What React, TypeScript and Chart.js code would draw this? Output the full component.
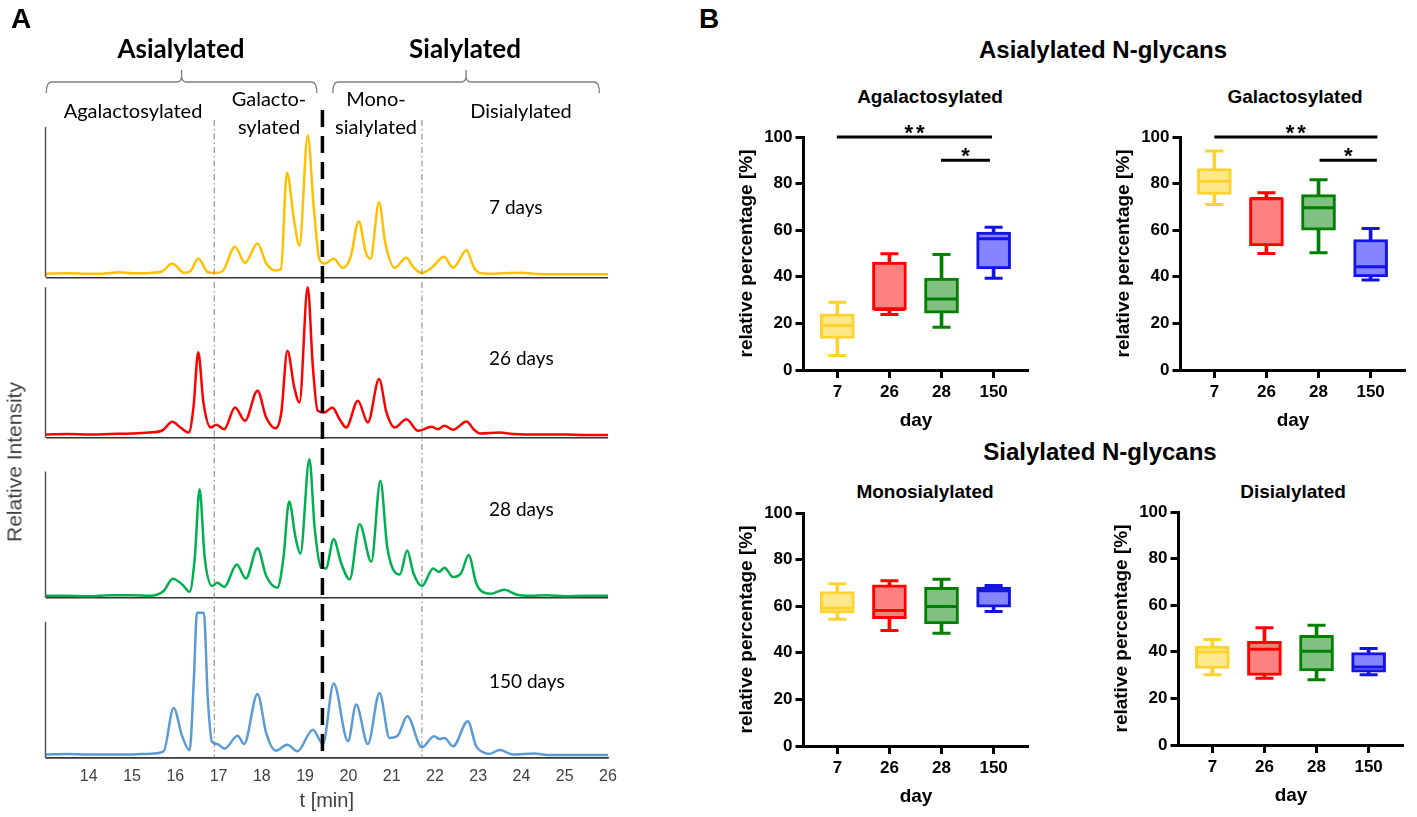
import React, { useEffect, useRef } from "react";
import { Chart, registerables } from "chart.js";

Chart.register(...registerables);

const ARIAL = "'Liberation Sans', Arial, Helvetica, sans-serif";
const CALIBRI = "Lato, 'Open Sans', 'DejaVu Sans', sans-serif";

// ---------------- Panel A : chromatograms ----------------
const timeTicks = [14, 15, 16, 17, 18, 19, 20, 21, 22, 23, 24, 25, 26];
const traceDays = ["7 days", "26 days", "28 days", "150 days"];
const traceColors = ["#FFC000", "#FF0000", "#00B050", "#5B9BD5"];
const fractionBounds = [16.9, 19.4, 21.7];

const trace7Days: [number, number][] = [
  [13.0, 3.5], [13.5, 4], [14.0, 3.5], [14.3, 3.5], [14.7, 5], [15.0, 4], [15.4, 4.3], [15.7, 6],
  [15.93, 13.7], [16.2, 4.5], [16.35, 6], [16.53, 18.7], [16.75, 5], [16.9, 4.3], [17.09, 6],
  [17.38, 30.4], [17.61, 14.4], [17.9, 33.7], [18.1, 14], [18.32, 6.7], [18.44, 8], [18.58, 104.4],
  [18.75, 55], [18.87, 31.7], [19.06, 141.7], [19.2, 70], [19.33, 17.7], [19.45, 13.7], [19.66, 18.4],
  [19.87, 9.4], [20.05, 20], [20.24, 56], [20.4, 25], [20.51, 18.4], [20.71, 75], [20.85, 35],
  [21.07, 9.4], [21.34, 19.4], [21.5, 10], [21.69, 4.3], [21.92, 9.4], [22.21, 20.4], [22.42, 9.4],
  [22.73, 27], [22.9, 10], [23.04, 4.3], [23.3, 3.5], [23.6, 4], [24.0, 4.5], [24.3, 3.5], [24.6, 3],
  [25.0, 3], [25.5, 3], [26.0, 3],
];
const trace26Days: [number, number][] = [
  [13.0, 3], [13.5, 3.5], [14.0, 3], [14.5, 3.5], [15.0, 4], [15.4, 5], [15.7, 7], [15.93, 15.7],
  [16.12, 10], [16.31, 5], [16.42, 30], [16.53, 85], [16.65, 35], [16.82, 10], [16.95, 12.7],
  [17.13, 8.3], [17.38, 30], [17.61, 16.7], [17.9, 46.7], [18.1, 20], [18.32, 9.3], [18.45, 25],
  [18.59, 86.7], [18.75, 50], [18.87, 35], [19.06, 150], [19.18, 70], [19.29, 26.7], [19.45, 25],
  [19.63, 30], [19.8, 18], [19.95, 10], [20.22, 36.7], [20.45, 15], [20.71, 58.3], [20.88, 25],
  [21.07, 10], [21.34, 18.3], [21.61, 6.7], [21.92, 10.7], [22.07, 8.3], [22.22, 11.7], [22.42, 7.7],
  [22.73, 16], [22.9, 8], [23.04, 4], [23.5, 5], [23.8, 3.5], [24.5, 3], [25.0, 3], [25.5, 2.5], [26.0, 2.5],
];
const trace28Days: [number, number][] = [
  [13.0, 2], [13.5, 2], [14.0, 1.5], [14.5, 2.5], [15.0, 2.5], [15.42, 2], [15.73, 6.7], [15.94, 19],
  [16.16, 13.3], [16.33, 6], [16.45, 40], [16.56, 108.3], [16.68, 40], [16.85, 11.7], [16.97, 15],
  [17.13, 10.7], [17.42, 33.3], [17.63, 19.3], [17.9, 49.3], [18.1, 22], [18.36, 10], [18.5, 40],
  [18.63, 96], [18.78, 60], [18.89, 44], [19.1, 138.3], [19.22, 70], [19.37, 30], [19.48, 29.3],
  [19.66, 58.3], [19.83, 35], [20.03, 18.3], [20.26, 73.3], [20.53, 36], [20.74, 116.7], [20.9, 50],
  [21.19, 23.3], [21.36, 47.3], [21.5, 25], [21.7, 11.7], [21.96, 29.3], [22.09, 25.7], [22.22, 30],
  [22.42, 20.7], [22.61, 25], [22.78, 42.7], [22.95, 15], [23.07, 6.7], [23.3, 4], [23.6, 8],
  [23.9, 3], [24.2, 2], [24.6, 2.5], [25.0, 1.5], [25.5, 2], [26.0, 2],
];
const trace150Days: [number, number][] = [
  [13.0, 3.5], [13.5, 4], [14.0, 3.5], [14.5, 3.5], [15.0, 3.5], [15.42, 4.3], [15.73, 6.7], [15.96, 50],
  [16.16, 21.7], [16.33, 7.7], [16.43, 80], [16.5, 145], [16.66, 145], [16.75, 60], [16.85, 16],
  [16.97, 14], [17.14, 9.3], [17.44, 22.3], [17.59, 14], [17.9, 64], [18.1, 25], [18.32, 7.3],
  [18.59, 13.3], [18.82, 6.7], [19.18, 28.3], [19.41, 14], [19.66, 74.3], [19.99, 16.7], [20.18, 53.3],
  [20.45, 14], [20.72, 65], [20.95, 20], [21.14, 22.3], [21.36, 41.7], [21.7, 10.7], [21.98, 21.7],
  [22.11, 19], [22.22, 20], [22.42, 11.7], [22.76, 36.7], [22.95, 12], [23.07, 6.7], [23.25, 4],
  [23.5, 8], [23.8, 3.5], [24.3, 4.5], [24.6, 3], [25.0, 3], [25.5, 3], [26.0, 3],
];

// ---------------- Panel B : box plots ----------------
const days = ["7", "26", "28", "150"];
const boxBorder = ["#FFD22E", "#FF0000", "#008000", "#1414E0"];
const boxFill = ["#FFE88C", "#FF8080", "#80C080", "#8484FF"];

const agalMin = [6.2, 23.8, 18.3, 39.4];
const agalQ1 = [13.6, 25.8, 24.4, 43.4];
const agalMedian = [19.1, 26.0, 30.5, 56.3];
const agalQ3 = [24.1, 46.3, 39.5, 59.2];
const agalMax = [29.1, 49.9, 49.6, 61.3];

const galMin = [71.0, 50.0, 50.3, 38.6];
const galQ1 = [75.4, 53.3, 60.0, 40.0];
const galMedian = [81.0, 73.6, 69.6, 44.3];
const galQ3 = [86.4, 74.0, 75.3, 56.0];
const galMax = [94.0, 76.1, 81.6, 60.7];

const monoMin = [54.4, 49.6, 48.4, 57.7];
const monoQ1 = [57.0, 54.6, 52.4, 59.6];
const monoMedian = [59.2, 58.2, 59.9, 66.6];
const monoQ3 = [66.3, 69.2, 68.1, 68.2];
const monoMax = [69.6, 70.9, 71.6, 68.9];

const diMin = [30.2, 28.7, 28.0, 30.2];
const diQ1 = [32.9, 29.9, 31.8, 31.3];
const diMedian = [39.9, 41.1, 40.2, 33.5];
const diQ3 = [42.5, 44.5, 47.1, 39.7];
const diMax = [45.3, 50.3, 51.4, 41.4];

const agalSignificance = [
  { from: 0.99, to: 3.97, y: 100, label: "**" },
  { from: 2.99, to: 3.93, y: 90, label: "*" },
];
const galSignificance = [
  { from: 1.0, to: 4.13, y: 100, label: "**" },
  { from: 3.02, to: 4.12, y: 90, label: "*" },
];

// ---------------- Chromatogram component ----------------
const CHROM_W = 640;
const CHROM_H = 817;

function Chromatogram() {
  const ref = useRef<HTMLCanvasElement>(null);
  useEffect(() => {
    const canvas = ref.current as HTMLCanvasElement;
    const traces = [trace7Days, trace26Days, trace28Days, trace150Days];
    const yIds = ["y0", "y1", "y2", "y3"];
    const stubTops = [150, 150, 126, 136];
    const scales: any = {
      x: {
        type: "linear",
        position: "bottom",
        min: 13,
        max: 26,
        offset: false,
        afterBuildTicks: (s: any) => {
          s.ticks = timeTicks.map((v) => ({ value: v }));
        },
        grid: { display: false, drawTicks: false, offset: false },
        border: { display: true, color: "#3a3a3a", width: 1.5 },
        ticks: { autoSkip: false, maxRotation: 0, padding: 9, color: "#404040", font: { family: ARIAL, size: 16 } },
        title: { display: true, text: "t [min]", color: "#404040", font: { family: ARIAL, size: 20 }, padding: { top: 4, bottom: 4 } },
        afterFit: (s: any) => {
          s.height = 59;
        },
      },
    };
    yIds.forEach((id, i) => {
      scales[id] = {
        type: "linear",
        position: "left",
        stack: "traces",
        stackWeight: 1,
        weight: 4 - i,
        min: 0,
        max: 160,
        afterBuildTicks: (s: any) => {
          s.ticks = [{ value: 0 }];
        },
        ticks: { display: false },
        grid: { display: true, drawTicks: false, color: "#333333", lineWidth: 1.5 },
        border: { display: false },
        afterFit: (s: any) => {
          s.width = 0;
        },
      };
    });

    const decor = {
      id: "chromDecor",
      afterDatasetsDraw(chart: any) {
        const { ctx, chartArea, scales: sc } = chart;
        const xs = sc.x;
        ctx.save();
        yIds.forEach((id, i) => {
          const s = sc[id];
          ctx.beginPath();
          ctx.setLineDash([]);
          ctx.strokeStyle = "#555555";
          ctx.lineWidth = 1.5;
          ctx.moveTo(chartArea.left, s.getPixelForValue(0));
          ctx.lineTo(chartArea.left, s.getPixelForValue(stubTops[i]));
          ctx.stroke();
        });
        fractionBounds.forEach((t, i) => {
          const px = xs.getPixelForValue(t);
          ctx.beginPath();
          if (i === 1) {
            ctx.strokeStyle = "#000000";
            ctx.lineWidth = 3.5;
            ctx.setLineDash([17, 9]);
            ctx.moveTo(px, chartArea.top - 7);
          } else {
            ctx.strokeStyle = "#808080";
            ctx.lineWidth = 1;
            ctx.setLineDash([6, 3, 1.5, 3]);
            ctx.moveTo(px, chartArea.top + 3);
          }
          ctx.lineTo(px, chartArea.bottom);
          ctx.stroke();
        });
        ctx.setLineDash([]);
        ctx.strokeStyle = "#7f7f7f";
        ctx.lineWidth = 1.3;
        const y0 = chartArea.top - 35;
        [
          [13.02, 19.27],
          [19.64, 25.8],
        ].forEach(([t1, t2]) => {
          const a = xs.getPixelForValue(t1);
          const b = xs.getPixelForValue(t2);
          const m = (a + b) / 2;
          ctx.beginPath();
          ctx.moveTo(a, y0 + 11);
          ctx.quadraticCurveTo(a, y0, a + 5, y0);
          ctx.lineTo(m - 5, y0);
          ctx.quadraticCurveTo(m, y0, m, y0 - 6);
          ctx.lineTo(m, y0 - 12);
          ctx.moveTo(m, y0 - 6);
          ctx.quadraticCurveTo(m, y0, m + 5, y0);
          ctx.lineTo(b - 5, y0);
          ctx.quadraticCurveTo(b, y0, b, y0 + 11);
          ctx.stroke();
        });
        ctx.restore();
      },
    };

    const chart = new Chart(canvas, {
      type: "line",
      data: {
        datasets: traces.map((tr, i) => ({
          label: traceDays[i],
          data: tr.map(([x, y]) => ({ x, y })),
          yAxisID: yIds[i],
          borderColor: traceColors[i],
          borderWidth: 2.5,
          pointRadius: 0,
          fill: false,
          cubicInterpolationMode: "monotone",
        })) as any,
      },
      options: {
        responsive: false,
        animation: false,
        events: [],
        layout: { padding: { left: 45.5, right: CHROM_W - 608, top: 117, bottom: 0 } },
        plugins: { legend: { display: false }, tooltip: { enabled: false } },
        scales,
      } as any,
      plugins: [decor],
    });
    return () => chart.destroy();
  }, []);
  return (
    <canvas
      ref={ref}
      width={CHROM_W}
      height={CHROM_H}
      style={{ position: "absolute", left: 0, top: 0, width: CHROM_W, height: CHROM_H }}
    />
  );
}

// ---------------- Box chart component ----------------
const YW = 72.5;
const XH = 66;
const PADL = 2;
const PADR = 10;
const PADT = 40;
const AREA_W = 233;
const AREA_H = 233;

function BoxChart(props: any) {
  const { areaLeft, areaTop, mins, q1s, medians, q3s, maxs, sig } = props;
  const ref = useRef<HTMLCanvasElement>(null);
  const W = Math.round(PADL + YW + AREA_W + PADR);
  const H = PADT + AREA_H + XH;
  useEffect(() => {
    const canvas = ref.current as HTMLCanvasElement;
    const sigItems = sig || [];
    const starPlugin = {
      id: "sigStars",
      afterDatasetsDraw(chart: any) {
        const { ctx, scales } = chart;
        ctx.save();
        ctx.fillStyle = "#000";
        ctx.font = `bold 22px ${ARIAL}`;
        ctx.textAlign = "center";
        ctx.textBaseline = "alphabetic";
        (ctx as any).letterSpacing = "3px";
        sigItems.forEach((s: any) => {
          const x = (scales.x.getPixelForValue(s.from) + scales.x.getPixelForValue(s.to)) / 2;
          const y = scales.y.getPixelForValue(s.y);
          ctx.fillText(s.label, x + 1.5, y + 3);
        });
        ctx.restore();
      },
    };
    const capPoints: any[] = [];
    const capColors: string[] = [];
    days.forEach((_, i) => {
      capPoints.push({ x: i + 1, y: mins[i] });
      capColors.push(boxBorder[i]);
      capPoints.push({ x: i + 1, y: maxs[i] });
      capColors.push(boxBorder[i]);
    });
    const datasets: any[] = [
      {
        type: "bar",
        label: "whisker",
        data: days.map((_, i) => ({ x: i + 1, y: [mins[i], maxs[i]] })),
        backgroundColor: boxBorder,
        borderWidth: 0,
        barThickness: 3,
        grouped: false,
        order: 5,
      },
      {
        type: "bar",
        label: "box",
        data: days.map((_, i) => ({ x: i + 1, y: [q1s[i], q3s[i]] })),
        backgroundColor: boxFill,
        borderColor: boxBorder,
        borderWidth: 3,
        borderSkipped: false,
        barThickness: 34,
        grouped: false,
        order: 4,
      },
      {
        type: "line",
        label: "median",
        data: medians.map((m: number, i: number) => ({ x: i + 1, y: m })),
        showLine: false,
        pointStyle: "line",
        pointRadius: 15.5,
        pointBorderWidth: 3,
        pointBorderColor: boxBorder,
        order: 3,
      },
      {
        type: "line",
        label: "caps",
        data: capPoints,
        showLine: false,
        pointStyle: "line",
        pointRadius: 9,
        pointBorderWidth: 3,
        pointBorderColor: capColors,
        order: 2,
      },
      ...sigItems.map((s: any) => ({
        type: "line",
        label: s.label,
        data: [
          { x: s.from, y: s.y },
          { x: s.to, y: s.y },
        ],
        borderColor: "#000",
        borderWidth: 3,
        pointRadius: 0,
        clip: false,
        order: 1,
      })),
    ];
    const chart = new Chart(canvas, {
      type: "bar",
      data: { datasets },
      options: {
        responsive: false,
        animation: false,
        events: [],
        layout: { padding: { left: PADL, right: W - PADL - YW - AREA_W, top: PADT, bottom: 0 } },
        plugins: { legend: { display: false }, tooltip: { enabled: false } },
        scales: {
          x: {
            type: "linear",
            min: 0.35,
            max: 4.67,
            offset: false,
            afterBuildTicks: (s: any) => {
              s.ticks = days.map((_, i) => ({ value: i + 1 }));
            },
            ticks: {
              autoSkip: false,
              maxRotation: 0,
              padding: 4,
              color: "#000",
              font: { family: ARIAL, size: 17, weight: "bold" },
              callback: (v: any) => days[Math.round(v) - 1],
            },
            title: { display: true, text: "day", color: "#000", font: { family: ARIAL, size: 19, weight: "bold" }, padding: { top: 4, bottom: 4 } },
            afterFit: (s: any) => {
              s.height = XH;
            },
            grid: { display: true, offset: false, drawOnChartArea: false, drawTicks: true, tickLength: 8, tickWidth: 3, tickColor: "#000" },
            border: { display: true, width: 3, color: "#000" },
          },
          y: {
            type: "linear",
            min: 0,
            max: 100,
            ticks: { stepSize: 20, padding: 3, color: "#000", font: { family: ARIAL, size: 17, weight: "bold" } },
            title: {
              display: true,
              text: "relative percentage [%]",
              color: "#000",
              font: { family: ARIAL, size: 19, weight: "bold" },
              padding: { top: 4, bottom: 4 },
            },
            afterFit: (s: any) => {
              s.width = YW;
            },
            grid: { display: true, drawOnChartArea: false, drawTicks: true, tickLength: 8, tickWidth: 3, tickColor: "#000" },
            border: { display: true, width: 3, color: "#000" },
          },
        },
      } as any,
      plugins: [starPlugin],
    });
    return () => chart.destroy();
  }, []);
  return (
    <canvas
      ref={ref}
      width={W}
      height={H}
      style={{ position: "absolute", left: areaLeft - YW - PADL, top: areaTop - PADT, width: W, height: H }}
    />
  );
}

function Text(props: any) {
  const { x, y, children, size, bold, family, color, anchor, rotate, lh } = props;
  const tx = anchor === "left" ? "0" : "-50%";
  return (
    <div
      style={{
        position: "absolute",
        left: x,
        top: y,
        transform: `translate(${tx}, -50%)${rotate ? ` rotate(${rotate}deg)` : ""}`,
        fontFamily: family || ARIAL,
        fontSize: size,
        fontWeight: bold ? 700 : 400,
        color: color || "#000",
        whiteSpace: "nowrap",
        lineHeight: lh || 1,
        textAlign: "center",
      }}
    >
      {children}
    </div>
  );
}

export default function App() {
  useEffect(() => {
    document.body.style.margin = "0";
  }, []);
  return (
    <div style={{ position: "absolute", left: 0, top: 0, width: 1417, height: 817, overflow: "hidden", background: "#fff" }}>
      <Chromatogram />
      <Text x={11} y={19} size={28} bold anchor="left">A</Text>
      <Text x={181} y={48} size={26} bold family={CALIBRI}>Asialylated</Text>
      <Text x={465} y={48} size={26} bold family={CALIBRI}>Sialylated</Text>
      <Text x={133} y={110} size={20} family={CALIBRI}>Agalactosylated</Text>
      <Text x={269} y={112} size={20} family={CALIBRI} lh="28px">
        Galacto-
        <br />
        sylated
      </Text>
      <Text x={376} y={112} size={20} family={CALIBRI} lh="28px">
        Mono-
        <br />
        sialylated
      </Text>
      <Text x={521} y={110} size={20} family={CALIBRI}>Disialylated</Text>
      <Text x={489} y={206} size={19} family={CALIBRI} anchor="left">{traceDays[0]}</Text>
      <Text x={489} y={357} size={19} family={CALIBRI} anchor="left">{traceDays[1]}</Text>
      <Text x={489} y={508} size={19} family={CALIBRI} anchor="left">{traceDays[2]}</Text>
      <Text x={489} y={680} size={19} family={CALIBRI} anchor="left">{traceDays[3]}</Text>
      <Text x={14} y={462} size={21} color="#404040" rotate={-90}>Relative Intensity</Text>

      <Text x={699} y={19} size={28} bold anchor="left">B</Text>
      <Text x={1103} y={50} size={24} bold>Asialylated N-glycans</Text>
      <Text x={1100} y={452} size={24} bold>Sialylated N-glycans</Text>
      <Text x={930} y={96} size={19} bold>Agalactosylated</Text>
      <Text x={1295} y={96} size={19} bold>Galactosylated</Text>
      <Text x={925} y={491} size={19} bold>Monosialylated</Text>
      <Text x={1293} y={491} size={19} bold>Disialylated</Text>

      <BoxChart areaLeft={803} areaTop={137} mins={agalMin} q1s={agalQ1} medians={agalMedian} q3s={agalQ3} maxs={agalMax} sig={agalSignificance} />
      <BoxChart areaLeft={1180} areaTop={137} mins={galMin} q1s={galQ1} medians={galMedian} q3s={galQ3} maxs={galMax} sig={galSignificance} />
      <BoxChart areaLeft={803} areaTop={513} mins={monoMin} q1s={monoQ1} medians={monoMedian} q3s={monoQ3} maxs={monoMax} />
      <BoxChart areaLeft={1178} areaTop={512} mins={diMin} q1s={diQ1} medians={diMedian} q3s={diQ3} maxs={diMax} />
    </div>
  );
}
